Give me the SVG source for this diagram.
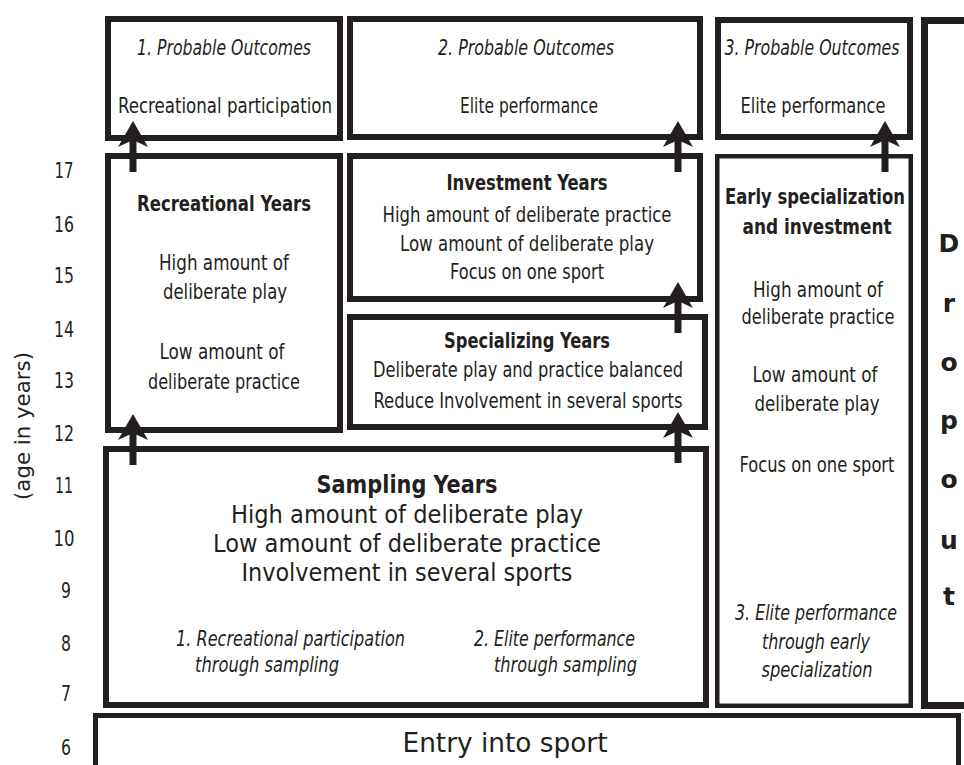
<svg xmlns="http://www.w3.org/2000/svg" width="964" height="765" viewBox="0 0 964 765">
<style>
.b{fill:none;stroke:#231f20;stroke-width:6}
.t{font-family:"Liberation Sans Narrow","DejaVu Sans Condensed","Liberation Sans",sans-serif;fill:#231f20;text-anchor:middle;font-size:21px}
.s{text-anchor:start}
.i{font-style:italic}
.bd{font-weight:bold}
.ax{font-size:22px}
.lg{font-size:25px}
.dr{font-family:"DejaVu Sans","Liberation Sans",sans-serif;font-weight:bold;font-size:25px;fill:#231f20;text-anchor:middle}
.c{stroke:#231f20;stroke-width:7;fill:none;marker-end:url(#ah)}
</style>
<defs>
<marker id="ah" markerUnits="userSpaceOnUse" viewBox="0 -15 26 30" markerWidth="26" markerHeight="30" refX="7" refY="0" orient="auto" overflow="visible">
<path d="M0,-15 L26,0 L0,15 L7,0 Z" fill="#231f20"/>
</marker>
</defs>
<rect width="964" height="765" fill="#fff"/>

<g id="axis">
<text class="t ax" x="64" y="178" textLength="19" lengthAdjust="spacingAndGlyphs">17</text>
<text class="t ax" x="64" y="232" textLength="20" lengthAdjust="spacingAndGlyphs">16</text>
<text class="t ax" x="64" y="283" textLength="20" lengthAdjust="spacingAndGlyphs">15</text>
<text class="t ax" x="64" y="337" textLength="20" lengthAdjust="spacingAndGlyphs">14</text>
<text class="t ax" x="64" y="388" textLength="20" lengthAdjust="spacingAndGlyphs">13</text>
<text class="t ax" x="64" y="441" textLength="20" lengthAdjust="spacingAndGlyphs">12</text>
<text class="t ax" x="64" y="493" textLength="18" lengthAdjust="spacingAndGlyphs">11</text>
<text class="t ax" x="64" y="546" textLength="21" lengthAdjust="spacingAndGlyphs">10</text>
<text class="t ax" x="66" y="598" textLength="10" lengthAdjust="spacingAndGlyphs">9</text>
<text class="t ax" x="66" y="651" textLength="10" lengthAdjust="spacingAndGlyphs">8</text>
<text class="t ax" x="66" y="701" textLength="10" lengthAdjust="spacingAndGlyphs">7</text>
<text class="t ax" x="66" y="755" textLength="10" lengthAdjust="spacingAndGlyphs">6</text>
<text class="t" transform="translate(30,426) rotate(-90)" textLength="148" lengthAdjust="spacingAndGlyphs">(age in years)</text>
</g>

<g id="outcome1">
<rect class="b" x="108" y="19" width="232" height="119"/>
<text class="t i" x="224" y="55" textLength="174" lengthAdjust="spacingAndGlyphs">1. Probable Outcomes</text>
<text class="t" x="225" y="113" textLength="214" lengthAdjust="spacingAndGlyphs">Recreational participation</text>
</g>

<g id="outcome2">
<rect class="b" x="350" y="19" width="350" height="118"/>
<text class="t i" x="526" y="55" textLength="176" lengthAdjust="spacingAndGlyphs">2. Probable Outcomes</text>
<text class="t" x="529" y="113" textLength="138" lengthAdjust="spacingAndGlyphs">Elite performance</text>
</g>

<g id="outcome3">
<rect class="b" x="718" y="20" width="192" height="117"/>
<text class="t i" x="812" y="55" textLength="175" lengthAdjust="spacingAndGlyphs">3. Probable Outcomes</text>
<text class="t" x="813" y="113" textLength="145" lengthAdjust="spacingAndGlyphs">Elite performance</text>
</g>

<g id="dropout">
<rect class="b" style="stroke-width:7" x="924.5" y="20.5" width="60" height="685"/>
<text class="dr" x="949" y="252">D</text>
<text class="dr" x="949" y="312">r</text>
<text class="dr" x="949" y="371">o</text>
<text class="dr" x="949" y="429">p</text>
<text class="dr" x="949" y="488">o</text>
<text class="dr" x="949" y="549">u</text>
<text class="dr" x="949" y="605">t</text>
</g>

<g id="recreational">
<rect class="b" x="108" y="156" width="232" height="274"/>
<text class="t bd" x="224" y="211" textLength="174" lengthAdjust="spacingAndGlyphs">Recreational Years</text>
<text class="t" x="224" y="270" textLength="130" lengthAdjust="spacingAndGlyphs">High amount of</text>
<text class="t" x="225" y="299" textLength="124" lengthAdjust="spacingAndGlyphs">deliberate play</text>
<text class="t" x="222" y="359" textLength="125" lengthAdjust="spacingAndGlyphs">Low amount of</text>
<text class="t" x="224" y="389" textLength="152" lengthAdjust="spacingAndGlyphs">deliberate practice</text>
</g>

<g id="investment">
<rect class="b" x="350" y="156" width="350" height="143"/>
<text class="t bd" x="527" y="190" textLength="161" lengthAdjust="spacingAndGlyphs">Investment Years</text>
<text class="t" x="527" y="222" textLength="289" lengthAdjust="spacingAndGlyphs">High amount of deliberate practice</text>
<text class="t" x="527" y="251" textLength="254" lengthAdjust="spacingAndGlyphs">Low amount of deliberate play</text>
<text class="t" x="527" y="279" textLength="154" lengthAdjust="spacingAndGlyphs">Focus on one sport</text>
</g>

<g id="specializing">
<rect class="b" x="350" y="317" width="355" height="110"/>
<text class="t bd" x="527" y="348" textLength="166" lengthAdjust="spacingAndGlyphs">Specializing Years</text>
<text class="t" x="528" y="377" textLength="310" lengthAdjust="spacingAndGlyphs">Deliberate play and practice balanced</text>
<text class="t" x="528" y="408" textLength="309" lengthAdjust="spacingAndGlyphs">Reduce Involvement in several sports</text>
</g>

<g id="early">
<rect class="b" style="stroke-width:4.5" x="717.25" y="156.25" width="193.5" height="549.5"/>
<text class="t bd" x="815" y="204" textLength="180" lengthAdjust="spacingAndGlyphs">Early specialization</text>
<text class="t bd" x="817" y="234" textLength="149" lengthAdjust="spacingAndGlyphs">and investment</text>
<text class="t" x="818" y="297" textLength="130" lengthAdjust="spacingAndGlyphs">High amount of</text>
<text class="t" x="818" y="324" textLength="153" lengthAdjust="spacingAndGlyphs">deliberate practice</text>
<text class="t" x="815" y="382" textLength="125" lengthAdjust="spacingAndGlyphs">Low amount of</text>
<text class="t" x="817" y="411" textLength="125" lengthAdjust="spacingAndGlyphs">deliberate play</text>
<text class="t" x="817" y="472" textLength="155" lengthAdjust="spacingAndGlyphs">Focus on one sport</text>
<text class="t i" x="816" y="620" textLength="162" lengthAdjust="spacingAndGlyphs">3. Elite performance</text>
<text class="t i" x="816" y="649" textLength="108" lengthAdjust="spacingAndGlyphs">through early</text>
<text class="t i" x="817" y="677" textLength="111" lengthAdjust="spacingAndGlyphs">specialization</text>
</g>

<g id="sampling">
<rect class="b" x="106" y="449" width="600" height="256"/>
<text class="t bd" style="font-size:24px" x="407" y="493" textLength="181" lengthAdjust="spacingAndGlyphs">Sampling Years</text>
<text class="t lg" x="407" y="523" textLength="352" lengthAdjust="spacingAndGlyphs">High amount of deliberate play</text>
<text class="t lg" x="407" y="552" textLength="388" lengthAdjust="spacingAndGlyphs">Low amount of deliberate practice</text>
<text class="t lg" x="407" y="581" textLength="331" lengthAdjust="spacingAndGlyphs">Involvement in several sports</text>
<text class="t i s" x="176" y="646" textLength="229" lengthAdjust="spacingAndGlyphs">1. Recreational participation</text>
<text class="t i s" x="195" y="672" textLength="144" lengthAdjust="spacingAndGlyphs">through sampling</text>
<text class="t i s" x="474" y="646" textLength="161" lengthAdjust="spacingAndGlyphs">2. Elite performance</text>
<text class="t i s" x="494" y="672" textLength="143" lengthAdjust="spacingAndGlyphs">through sampling</text>
</g>

<g id="entry">
<rect class="b" style="stroke-width:5" x="95.5" y="715.5" width="863" height="60"/>
<text class="t" style="font-size:27px" x="505" y="752" textLength="205" lengthAdjust="spacingAndGlyphs">Entry into sport</text>
</g>

<g id="connectors">
<line class="c" x1="133" y1="465" x2="133" y2="433"/>
<line class="c" x1="133" y1="172" x2="133" y2="140"/>
<line class="c" x1="678" y1="172" x2="678" y2="140"/>
<line class="c" x1="678" y1="333" x2="678" y2="301"/>
<line class="c" x1="678" y1="463" x2="678" y2="431"/>
<line class="c" x1="885" y1="172" x2="885" y2="140"/>
</g>
</svg>
